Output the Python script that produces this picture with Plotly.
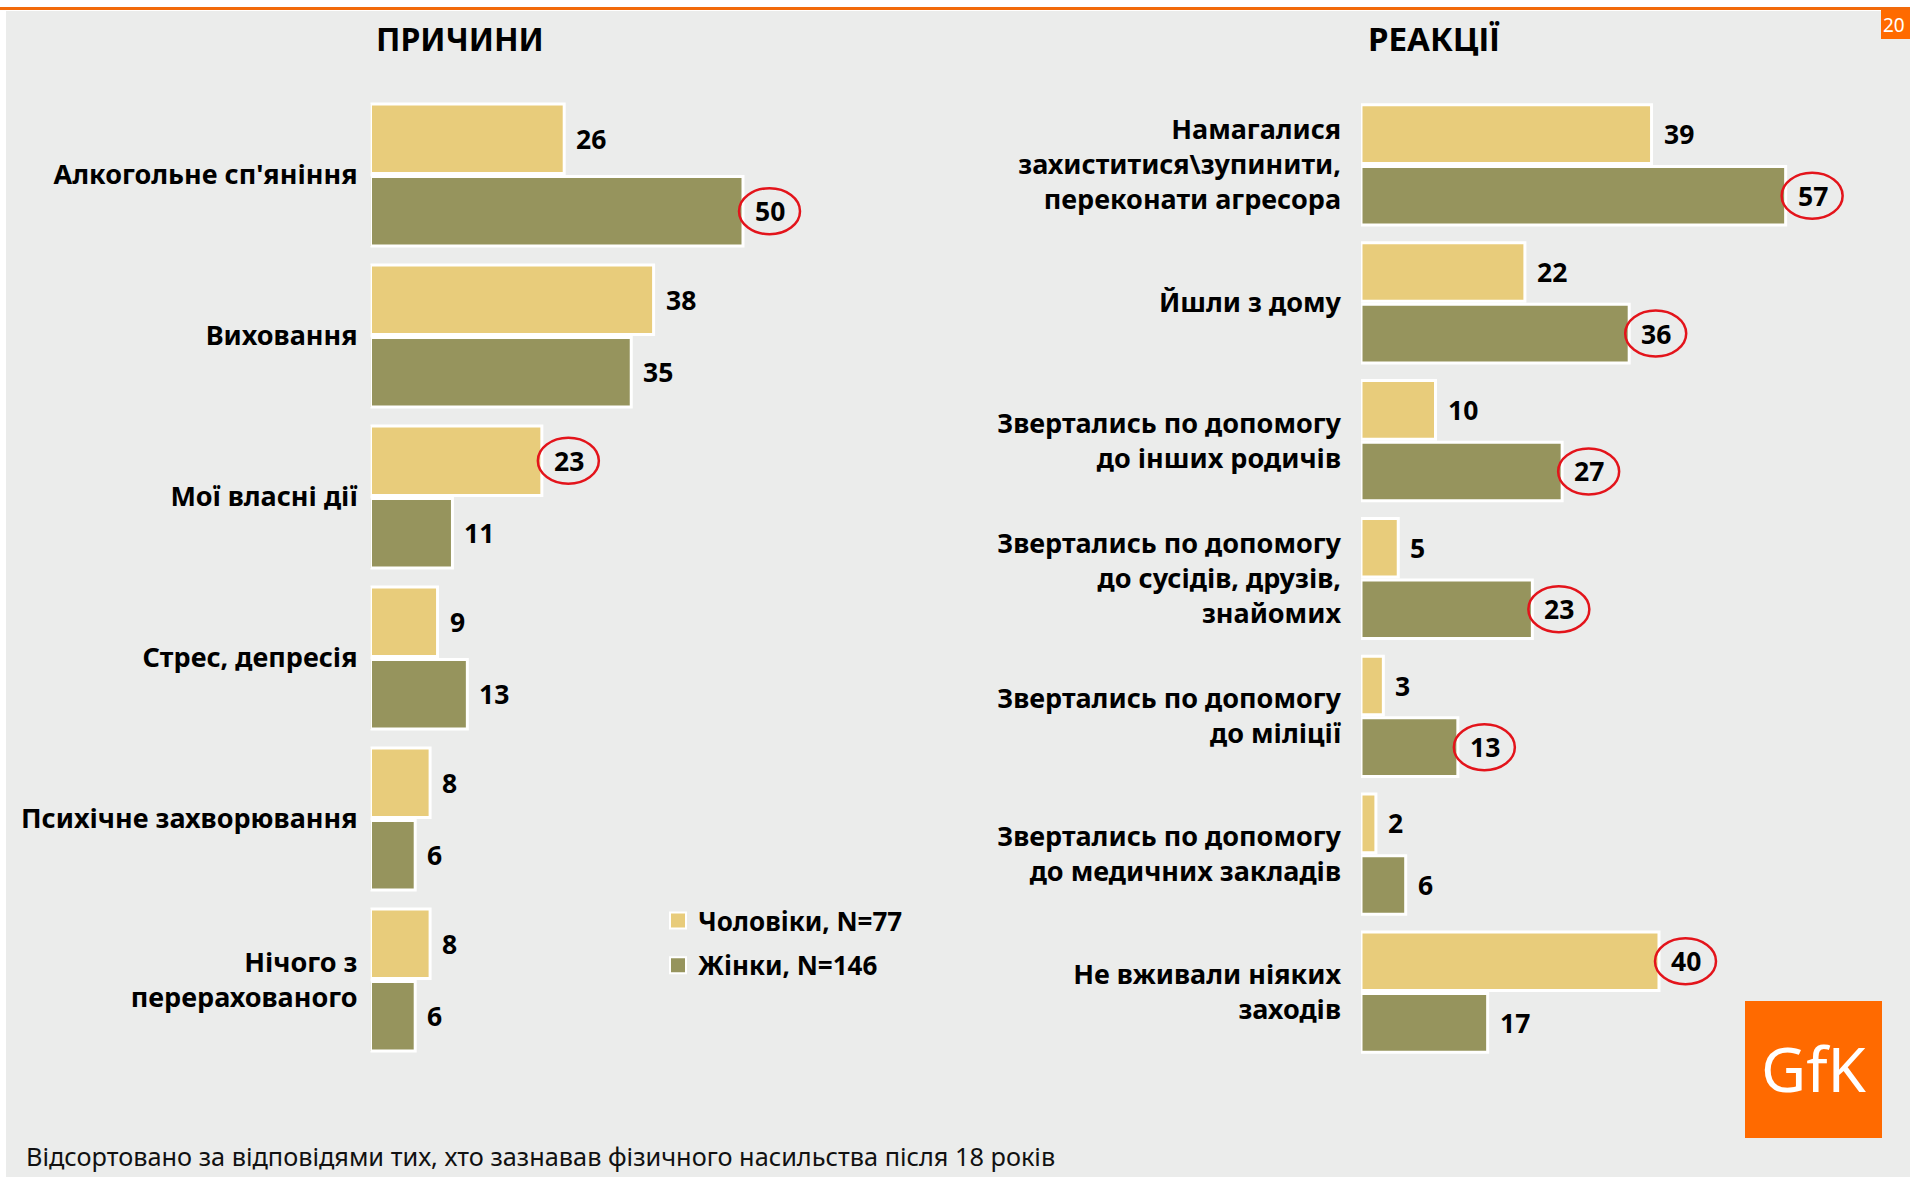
import plotly.graph_objects as go

# ---------------- data ----------------
cause_labels = ["Алкогольне сп'яніння", "Виховання", "Мої власні дії", "Стрес, депресія",
                "Психічне захворювання", "Нічого з<br>перерахованого"]
cause_men = [26, 38, 23, 9, 8, 8]
cause_women = [50, 35, 11, 13, 6, 6]
cause_men_circled = [False, False, True, False, False, False]
cause_women_circled = [True, False, False, False, False, False]

reaction_labels = ["Намагалися<br>захиститися\\зупинити,<br>переконати агресора",
                   "Йшли з дому",
                   "Звертались по допомогу<br>до інших родичів",
                   "Звертались по допомогу<br>до сусідів, друзів,<br>знайомих",
                   "Звертались по допомогу<br>до міліції",
                   "Звертались по допомогу<br>до медичних закладів",
                   "Не вживали ніяких<br>заходів"]
reaction_men = [39, 22, 10, 5, 3, 2, 40]
reaction_women = [57, 36, 27, 23, 13, 6, 17]
reaction_men_circled = [False, False, False, False, False, False, True]
reaction_women_circled = [True, True, True, True, True, False, False]

MEN_NAME = "Чоловіки, N=77"
WOMEN_NAME = "Жінки, N=146"
TITLE_LEFT = "ПРИЧИНИ"
TITLE_RIGHT = "РЕАКЦІЇ"
FOOTNOTE = "Відсортовано за відповідями тих, хто зазнавав фізичного насильства після 18 років"

# ---------------- style ----------------
W, H = 1910, 1177
MEN_COLOR = "#E8CC7B"
WOMEN_COLOR = "#96945D"
BG = "#EBECEB"
ORANGE = "#FF6A00"
RED = "#E3141B"
FONT = "Noto Sans"


def px(x):
    return x / W


def py(y):
    return 1 - y / H


fig = go.Figure()

# legend entries (square swatches), linked to the bars through legendgroup
fig.add_trace(go.Scatter(x=[None], y=[None], mode="markers", name=MEN_NAME, legendgroup="m",
                         marker=dict(symbol="square", size=26, color=MEN_COLOR,
                                     line=dict(color="white", width=2)),
                         xaxis="x", yaxis="y", hoverinfo="skip"))
fig.add_trace(go.Scatter(x=[None], y=[None], mode="markers", name=WOMEN_NAME, legendgroup="w",
                         marker=dict(symbol="square", size=26, color=WOMEN_COLOR,
                                     line=dict(color="white", width=2)),
                         xaxis="x", yaxis="y", hoverinfo="skip"))

panels = [
    dict(labels=cause_labels, men=cause_men, women=cause_women,
         mc=cause_men_circled, wc=cause_women_circled,
         xa="x", ya="y", width=0.432, gap=0.009),
    dict(labels=reaction_labels, men=reaction_men, women=reaction_women,
         mc=reaction_men_circled, wc=reaction_women_circled,
         xa="x2", ya="y2", width=0.425, gap=0.011),
]

annotations = []
shapes = []

for p in panels:
    w, g = p["width"], p["gap"]
    men_off, women_off = -(w + g), g
    fig.add_trace(go.Bar(
        x=p["men"], y=p["labels"], orientation="h", width=w, offset=men_off,
        marker=dict(color=MEN_COLOR, line=dict(color="white", width=3)),
        name=MEN_NAME, legendgroup="m", showlegend=False,
        xaxis=p["xa"], yaxis=p["ya"], hoverinfo="x+y"))
    fig.add_trace(go.Bar(
        x=p["women"], y=p["labels"], orientation="h", width=w, offset=women_off,
        marker=dict(color=WOMEN_COLOR, line=dict(color="white", width=3)),
        name=WOMEN_NAME, legendgroup="w", showlegend=False,
        xaxis=p["xa"], yaxis=p["ya"], hoverinfo="x+y"))
    for vals, circ, off in ((p["men"], p["mc"], men_off), (p["women"], p["wc"], women_off)):
        for i, (v, c) in enumerate(zip(vals, circ)):
            yc = i + off + w / 2
            annotations.append(dict(
                x=v, y=yc, xref=p["xa"], yref=p["ya"], text=str(v), showarrow=False,
                xanchor="left", yanchor="middle", xshift=10,
                font=dict(family=FONT, size=26.5, color="black", weight="bold")))
            if c:
                shapes.append(dict(
                    type="circle", xref=p["xa"], yref=p["ya"],
                    xsizemode="pixel", xanchor=v, x0=-4, x1=57,
                    ysizemode="pixel", yanchor=yc, y0=-23, y1=23,
                    line=dict(color=RED, width=2.5), layer="above"))

# background decorations
shapes = [
    dict(type="rect", xref="paper", yref="paper", x0=px(6), x1=1, y0=0, y1=py(11),
         fillcolor=BG, line=dict(width=0), layer="below"),
    dict(type="line", xref="paper", yref="paper", x0=0, x1=1, y0=py(8.5), y1=py(8.5),
         line=dict(color="#F26A0A", width=3), layer="below"),
    dict(type="rect", xref="paper", yref="paper", x0=px(1881), x1=1, y0=py(39), y1=py(10),
         fillcolor=ORANGE, line=dict(width=0), layer="below"),
    dict(type="rect", xref="paper", yref="paper", x0=px(1745), x1=px(1882), y0=py(1138), y1=py(1001),
         fillcolor=ORANGE, line=dict(width=0), layer="below"),
] + shapes

annotations += [
    dict(x=px(459.5), y=py(38.5), xref="paper", yref="paper", text=TITLE_LEFT, showarrow=False,
         xanchor="center", yanchor="middle", font=dict(family=FONT, size=32, color="black", weight="bold")),
    dict(x=px(1434), y=py(38.5), xref="paper", yref="paper", text=TITLE_RIGHT, showarrow=False,
         xanchor="center", yanchor="middle", font=dict(family=FONT, size=33, color="black", weight="bold")),
    dict(x=px(24), y=py(1156), xref="paper", yref="paper", text=FOOTNOTE, showarrow=False,
         xanchor="left", yanchor="middle", font=dict(family=FONT, size=25.3, color="#111111")),
    dict(x=px(1813.5), y=py(1068), xref="paper", yref="paper", text="GfK", showarrow=False,
         xanchor="center", yanchor="middle", font=dict(family=FONT, size=62, color="white")),
    dict(x=px(1881), y=py(25), xref="paper", yref="paper", text="20", showarrow=False,
         xanchor="left", yanchor="middle", font=dict(family=FONT, size=19, color="white")),
]

SCALE = 7.45  # px per percentage point
XMAX = 70
axis_font = dict(family=FONT, size=27, color="black", weight="bold")

fig.update_layout(
    width=W, height=H, autosize=False,
    margin=dict(l=0, r=0, t=0, b=0),
    paper_bgcolor="white", plot_bgcolor=BG,
    barmode="overlay",
    showlegend=True,
    legend=dict(x=px(658), y=py(897), xanchor="left", yanchor="top",
                font=dict(family=FONT, size=26, color="black", weight="bold"),
                bgcolor="rgba(0,0,0,0)", traceorder="grouped", tracegroupgap=8,
                itemsizing="trace"),
    xaxis=dict(domain=[px(370.5), px(370.5 + SCALE * XMAX)], range=[0, XMAX],
               visible=False, anchor="y"),
    yaxis=dict(domain=[py(1060.5), py(94.5)], type="category",
               categoryorder="array", categoryarray=cause_labels,
               range=[len(cause_labels) - 0.5, -0.5], anchor="x",
               showgrid=False, zeroline=False, showline=False, ticks="",
               ticklabelstandoff=12, tickfont=axis_font),
    xaxis2=dict(domain=[px(1361), px(1361 + SCALE * XMAX)], range=[0, XMAX],
                visible=False, anchor="y2"),
    yaxis2=dict(domain=[py(1061), py(96)], type="category",
                categoryorder="array", categoryarray=reaction_labels,
                range=[len(reaction_labels) - 0.5, -0.5], anchor="x2",
                showgrid=False, zeroline=False, showline=False, ticks="",
                ticklabelstandoff=19, tickfont=axis_font),
    shapes=shapes,
    annotations=annotations,
)

fig.write_html("out.html", config={"displayModeBar": False},
               post_script="document.body.style.margin='0';")
